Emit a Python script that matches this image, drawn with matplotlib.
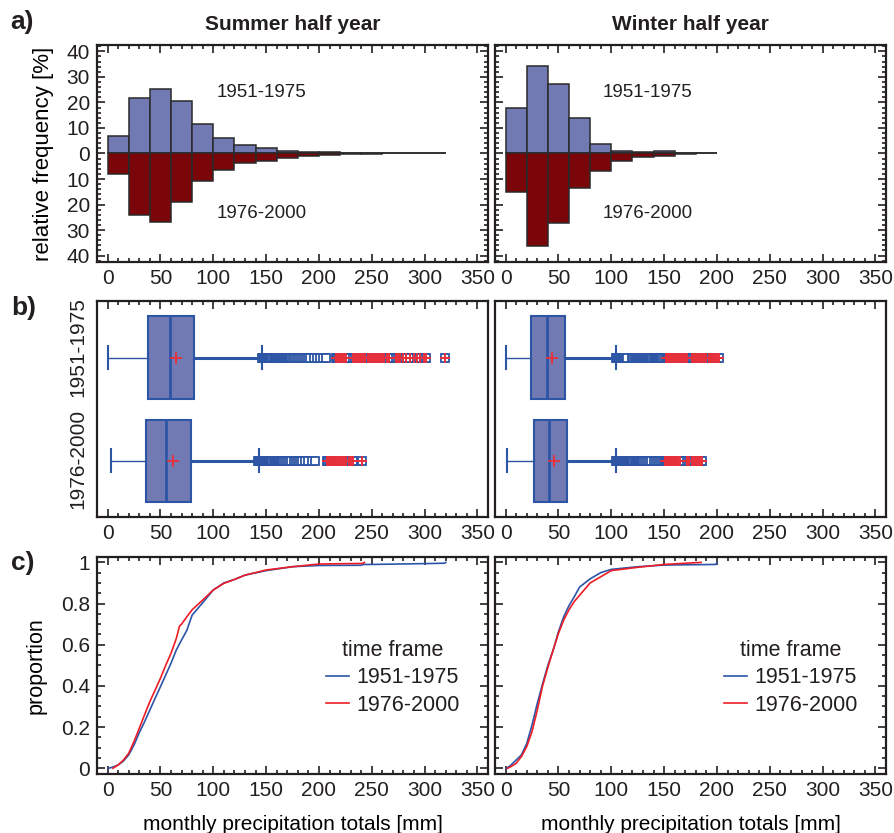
import numpy as np
import matplotlib
matplotlib.use("Agg")
import matplotlib.pyplot as plt
from matplotlib.ticker import MultipleLocator, FuncFormatter

plt.rcParams['font.family'] = ['Liberation Sans', 'DejaVu Sans']
plt.rcParams['text.color'] = '#231f20'
plt.rcParams['xtick.color'] = '#231f20'
plt.rcParams['ytick.color'] = '#231f20'

periods = ["1951-1975", "1976-2000"]
seasons = ["Summer half year", "Winter half year"]

# a) relative frequency [%], 20 mm bins (left edges)
summer_bins = [0, 20, 40, 60, 80, 100, 120, 140, 160, 180, 200, 220, 240, 260, 280, 300]
summer_early = [6.8, 21.6, 25.4, 20.7, 11.6, 6.2, 3.3, 2.0, 1.0, 0.5, 0.4, 0.3, 0.3, 0, 0, 0]
summer_late = [7.9, 24.1, 26.8, 19.1, 10.7, 6.4, 3.6, 3.0, 1.7, 1.0, 0.7, 0.3, 0.1, 0, 0, 0]
winter_bins = [0, 20, 40, 60, 80, 100, 120, 140, 160, 180]
winter_early = [17.8, 34.1, 27.2, 13.9, 3.8, 1.0, 0.7, 1.0, 0, 0.3]
winter_late = [15.0, 36.2, 27.3, 13.5, 6.9, 3.0, 1.4, 0.8, 0.3, 0]

# b) box plot statistics [mm]
summer_box_early = dict(whislo=0, q1=38, med=59, q3=82, whishi=146, mean=65)
summer_box_late = dict(whislo=3.5, q1=36, med=55, q3=79, whishi=143, mean=62)
winter_box_early = dict(whislo=0, q1=24.5, med=39.5, q3=56, whishi=104, mean=44)
winter_box_late = dict(whislo=1.5, q1=27, med=41, q3=58.5, whishi=104, mean=46)

summer_mild_early = [146, 147, 148, 149, 150, 151, 152, 153, 154, 155, 156, 157, 158, 159, 160,
                     161, 162, 163, 164, 165, 166, 167, 168, 169, 170, 171, 172, 173, 174, 175,
                     176, 178, 180, 182, 184, 186, 188, 190, 192, 195, 198, 201, 204, 207]
summer_extreme_early = [216, 217, 218, 220, 222, 224, 226, 232, 234, 236, 238, 240, 242, 244,
                        246, 248, 250, 252, 254, 256, 258, 260, 262, 264, 266, 273, 275, 277,
                        280, 282, 286, 290, 293, 296, 299, 301, 319]
summer_mild_late = [142, 143, 144, 145, 146, 147, 148, 149, 150, 151, 152, 153, 154, 155, 156,
                    157, 158, 159, 160, 161, 162, 163, 164, 165, 166, 168, 170, 172, 174, 176,
                    178, 180, 182, 184, 187, 190, 193, 196]
summer_extreme_late = [208, 209, 210, 211, 212, 214, 216, 218, 220, 222, 224, 226, 228, 230,
                       232, 241]
winter_mild_early = [104, 105, 106, 107, 108, 109, 110, 111, 112, 113, 114, 115, 120, 121, 122,
                     123, 124, 125, 126, 127, 128, 129, 130, 131, 132, 133, 134, 135, 136, 137,
                     138, 139, 140, 141, 142, 143, 144, 145, 146, 147, 148, 150]
winter_extreme_early = [152, 153, 154, 155, 156, 157, 158, 159, 160, 162, 164, 166, 168, 170,
                        172, 176, 178, 180, 182, 184, 186, 188, 190, 192, 194, 196, 198, 200, 202]
winter_mild_late = [104, 105, 106, 107, 108, 109, 110, 111, 112, 113, 114, 115, 116, 117, 118,
                    119, 120, 121, 122, 123, 124, 125, 126, 127, 128, 129, 130, 132, 134, 136,
                    138, 140, 142, 144, 146, 148, 150]
winter_extreme_late = [151, 152, 153, 154, 155, 156, 157, 158, 159, 160, 161, 162, 163, 165,
                       172, 174, 176, 178, 180, 182, 184, 186]

# c) empirical cumulative proportion, read off the curves
summer_cdf_x_early = [1, 5, 10, 15, 20, 25, 30, 35, 40, 45, 50, 55, 60, 65, 70, 75, 77, 80, 90,
                      100, 110, 120, 130, 150, 175, 200, 240, 242, 250, 300, 319, 320]
summer_cdf_y_early = [0, 0.006, 0.016, 0.035, 0.065, 0.113, 0.173, 0.226, 0.283, 0.34, 0.396,
                      0.453, 0.51, 0.574, 0.623, 0.67, 0.7, 0.744, 0.804, 0.866, 0.9, 0.917,
                      0.938, 0.96, 0.979, 0.985, 0.986, 0.99, 0.99, 0.994, 0.996, 1.0]
summer_cdf_x_late = [5, 10, 15, 20, 25, 30, 35, 40, 45, 50, 55, 60, 65, 68, 70, 75, 80, 90, 100,
                     110, 120, 130, 150, 175, 200, 242, 243]
summer_cdf_y_late = [0, 0.016, 0.04, 0.073, 0.13, 0.194, 0.26, 0.324, 0.38, 0.437, 0.5, 0.558,
                     0.63, 0.69, 0.7, 0.736, 0.77, 0.817, 0.866, 0.898, 0.917, 0.938, 0.963,
                     0.979, 0.992, 0.995, 1.0]
winter_cdf_x_early = [1, 5, 10, 15, 20, 25, 30, 35, 40, 45, 50, 55, 60, 65, 70, 80, 90, 100,
                      125, 150, 199, 200]
winter_cdf_y_early = [0, 0.015, 0.04, 0.065, 0.12, 0.21, 0.315, 0.41, 0.5, 0.574, 0.663, 0.736,
                      0.79, 0.833, 0.88, 0.92, 0.95, 0.966, 0.979, 0.987, 0.99, 1.0]
winter_cdf_x_late = [2, 5, 10, 15, 20, 25, 30, 35, 40, 45, 50, 55, 60, 65, 70, 80, 90, 100, 125,
                     150, 185]
winter_cdf_y_late = [0, 0.008, 0.024, 0.057, 0.105, 0.178, 0.283, 0.4, 0.49, 0.574, 0.655, 0.72,
                     0.77, 0.81, 0.84, 0.9, 0.93, 0.96, 0.976, 0.99, 1.0]

blue_fill = '#717ab2'
red_fill = '#7a0609'
box_blue = '#2d55a5'
line_blue = '#2b55a8'
line_red = '#ee1c25'
plus_red = '#e8303a'

fig = plt.figure(figsize=(8.95, 8.33), dpi=100)
lefts = [0.1084, 0.5531]
width = 0.4369
rows = {'a': (0.6855, 0.2605), 'b': (0.3794, 0.2593), 'c': (0.0708, 0.2605)}


def style_axis(ax):
    for s in ax.spines.values():
        s.set_linewidth(1.6)
        s.set_color('#231f20')
    ax.tick_params(which='both', direction='in', top=True, right=True,
                   labelsize=15, width=1.2, pad=5)
    ax.tick_params(which='major', length=6)
    ax.tick_params(which='minor', length=3)
    ax.set_xlim(-10, 360)
    ax.xaxis.set_major_locator(MultipleLocator(50))
    ax.xaxis.set_minor_locator(MultipleLocator(10))


hist_data = [(summer_bins, summer_early, summer_late), (winter_bins, winter_early, winter_late)]
box_data = [
    [(summer_box_early, summer_mild_early, summer_extreme_early),
     (summer_box_late, summer_mild_late, summer_extreme_late)],
    [(winter_box_early, winter_mild_early, winter_extreme_early),
     (winter_box_late, winter_mild_late, winter_extreme_late)],
]
cdf_data = [
    [(summer_cdf_x_early, summer_cdf_y_early), (summer_cdf_x_late, summer_cdf_y_late)],
    [(winter_cdf_x_early, winter_cdf_y_early), (winter_cdf_x_late, winter_cdf_y_late)],
]
label_pos = [(146, 23.8, -23.4), (134, 24, -23.4)]

for i in range(2):
    # a) back-to-back histograms
    y0, h = rows['a']
    ax = fig.add_axes([lefts[i], y0, width, h])
    bins, early, late = hist_data[i]
    ax.bar(bins, early, width=20, align='edge', color=blue_fill, edgecolor='#2a2a2a', linewidth=1.1)
    ax.bar(bins, [-v for v in late], width=20, align='edge', color=red_fill, edgecolor='#2a2a2a',
           linewidth=1.1)
    style_axis(ax)
    ax.set_ylim(-42.5, 42.5)
    ax.yaxis.set_major_locator(MultipleLocator(10))
    ax.yaxis.set_minor_locator(MultipleLocator(2))
    ax.yaxis.set_major_formatter(FuncFormatter(lambda v, p: f"{abs(v):.0f}"))
    ax.set_title(seasons[i], fontsize=15, fontweight='bold', pad=11)
    tx, ty1, ty2 = label_pos[i]
    ax.text(tx, ty1, periods[0], fontsize=13.5, ha='center', va='center')
    ax.text(tx, ty2, periods[1], fontsize=13.5, ha='center', va='center')
    if i == 0:
        ax.set_ylabel("relative frequency [%]", fontsize=16)
        ax.yaxis.set_label_coords(-0.11, 0.5)
    else:
        ax.tick_params(labelleft=False)

    # b) box plots
    y0, h = rows['b']
    ax = fig.add_axes([lefts[i], y0, width, h])
    stats = []
    positions = [2, 1]
    for st, mild, ext in box_data[i]:
        d = dict(st)
        d['fliers'] = mild + ext
        stats.append(d)
    res = ax.bxp(stats, positions=positions, orientation='horizontal', widths=0.8,
                 patch_artist=True, showmeans=True, capwidths=0.22,
                 boxprops=dict(facecolor=blue_fill, edgecolor=box_blue, linewidth=1.5),
                 medianprops=dict(color=box_blue, linewidth=2),
                 whiskerprops=dict(color=box_blue, linewidth=1.2),
                 capprops=dict(color=box_blue, linewidth=1.5),
                 meanprops=dict(marker='+', markeredgecolor=plus_red, markersize=8,
                                markeredgewidth=1.3),
                 flierprops=dict(marker='s', markerfacecolor='white', markeredgecolor=box_blue,
                                 markersize=5.5, markeredgewidth=1.3))
    for k, wl in enumerate(res['whiskers']):
        wl.set_linewidth(1.0 if k % 2 == 0 else 2.2)
    for pos, (st, mild, ext) in zip(positions, box_data[i]):
        ax.plot(ext, [pos] * len(ext), linestyle='none', marker='+', color=plus_red,
                markersize=7, markeredgewidth=1.4, zorder=5)
    style_axis(ax)
    ax.set_ylim(0.456, 2.55)
    ax.tick_params(axis='y', which='both', length=0)
    if i == 0:
        ax.set_yticks([2.1, 1.02])
        ax.set_yticklabels(periods, rotation=90, va='center', fontsize=15)
        ax.tick_params(axis='y', pad=7)
    else:
        ax.set_yticks([])

    # c) cumulative proportion
    y0, h = rows['c']
    ax = fig.add_axes([lefts[i], y0, width, h])
    (xe, ye), (xl, yl) = cdf_data[i]
    ax.plot(xe, ye, color=line_blue, linewidth=1.2, label=periods[0])
    ax.plot(xl, yl, color=line_red, linewidth=1.2, label=periods[1])
    style_axis(ax)
    ax.set_ylim(-0.028, 1.026)
    ax.yaxis.set_major_locator(MultipleLocator(0.2))
    ax.yaxis.set_minor_locator(MultipleLocator(0.05))
    ax.yaxis.set_major_formatter(FuncFormatter(lambda v, p: f"{v:g}"))
    ax.set_xlabel("monthly precipitation totals [mm]", fontsize=15)
    ax.xaxis.set_label_coords(0.5, -0.19)
    leg = ax.legend(title="time frame", loc='lower right', bbox_to_anchor=(0.965, 0.2),
                    frameon=False, fontsize=15.5, title_fontsize=15.5, handlelength=1.1,
                    handletextpad=0.3, labelspacing=0.3, borderpad=0.2)
    if i == 0:
        ax.set_ylabel("proportion", fontsize=15.5)
        ax.yaxis.set_label_coords(-0.13, 0.5)
    else:
        ax.tick_params(labelleft=False)

fig.text(0.012, 0.973, "a)", fontsize=19, fontweight='bold', va='center')
fig.text(0.012, 0.630, "b)", fontsize=19, fontweight='bold', va='center')
fig.text(0.012, 0.324, "c)", fontsize=19, fontweight='bold', va='center')

fig.savefig("out.png", dpi=100)
